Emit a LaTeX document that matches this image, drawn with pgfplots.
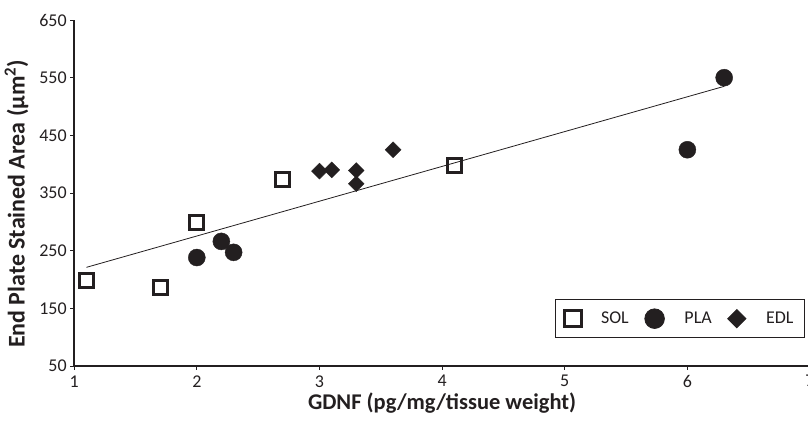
\documentclass[border=0pt]{standalone}
\usepackage{fontspec}
\setmainfont{Carlito}
\usepackage{pgfplots}
\pgfplotsset{compat=1.18}
\definecolor{ink}{HTML}{231F20}
\begin{document}
\begin{tikzpicture}
\begin{axis}[
  scale only axis,
  width=734bp, height=345bp,
  xmin=1, xmax=7, ymin=50, ymax=650,
  xtick={1,2,3,4,5,6,7},
  ytick={50,150,250,350,450,550,650},
  axis lines*=left,
  axis line style={line width=1.6bp, ink},
  tick style={line width=0.8bp, ink},
  tick align=outside,
  major tick length=4bp,
  /pgf/number format/assume math mode=true,
  tick label style={font=\fontsize{18}{20}\selectfont, text=ink},
  xticklabel style={yshift=-2bp},
  xlabel={\textbf{GDNF (pg/mg/tissue weight)}},
  ylabel={\textbf{End Plate Stained Area (µm\textsuperscript{2})}},
  xlabel style={font=\fontsize{22.5}{24}\selectfont, text=ink, yshift=2bp},
  ylabel style={font=\fontsize{24}{26}\selectfont, text=ink, yshift=4bp, xshift=-11bp},
  clip=false,
  legend columns=3,
  legend style={at={(0.993,0.081)}, anchor=south east, draw=ink, line width=0.8bp,
    font=\fontsize{18}{20}\selectfont, text=ink, inner xsep=9bp, inner ysep=9bp,
    /tikz/every odd column/.append style={column sep=18bp},
    /tikz/every even column/.append style={column sep=14bp}},
  legend cell align=left,
  legend image post style={scale=1.15},
]
\addplot[ink, line width=0.8bp, forget plot] coordinates {(1.1,221) (6.3,535)};
\addplot[only marks, mark=square, mark size=7bp, mark options={line width=3bp, draw=ink, fill=white}]
  coordinates {(1.1,198) (1.7,186) (2.0,299) (2.7,374) (4.1,397)};
\addlegendentry{SOL}
\addplot[only marks, mark=*, mark size=8.5bp, mark options={draw=ink, fill=ink}]
  coordinates {(2.0,238) (2.2,266) (2.3,247) (6.0,425) (6.3,550)};
\addlegendentry{PLA}
\addplot[only marks, mark=square*, mark size=5.6bp, mark options={draw=ink, fill=ink, rotate=45}]
  coordinates {(3.0,388) (3.1,390) (3.3,389) (3.3,366) (3.6,425)};
\addlegendentry{EDL}
\end{axis}
\pgfresetboundingbox
\path[use as bounding box] ([xshift=-74bp,yshift=-62bp]current axis.south west) rectangle ([yshift=20bp,xshift=-2bp]current axis.north east);
\end{tikzpicture}
\end{document}
